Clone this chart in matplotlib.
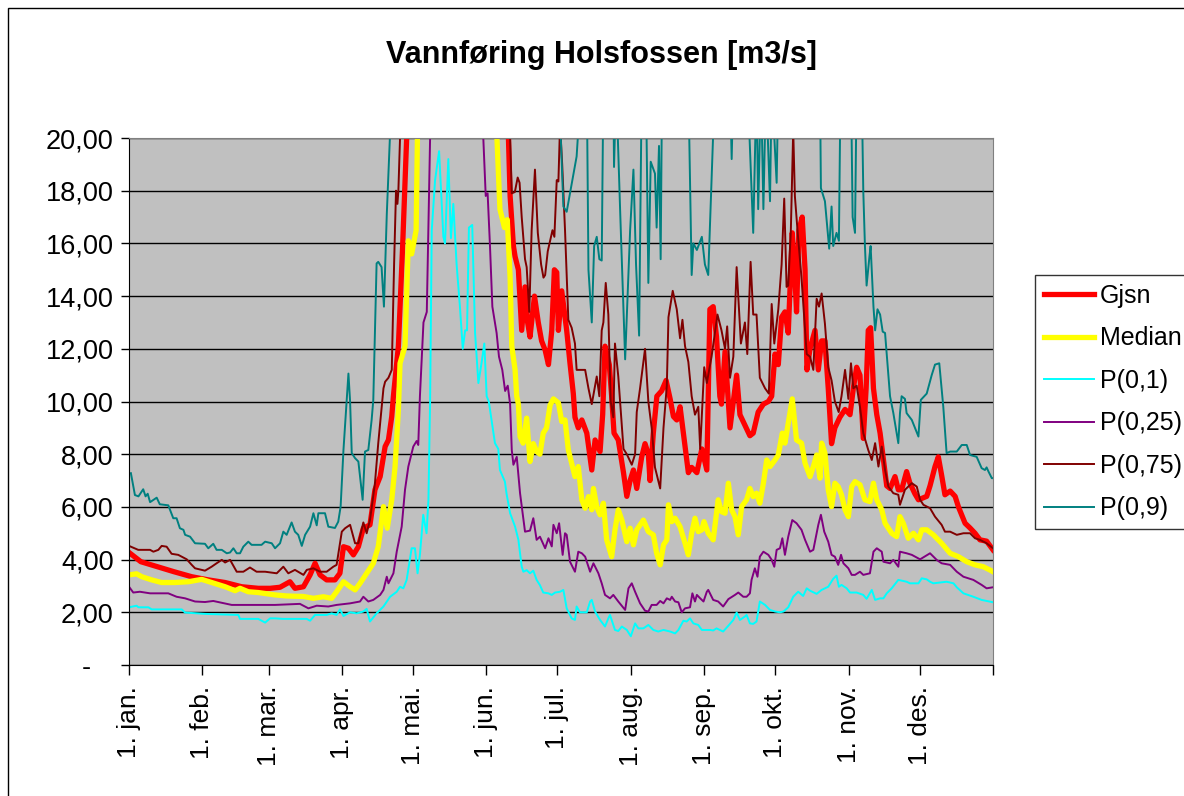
import matplotlib
matplotlib.use("Agg")
import matplotlib.pyplot as plt
from matplotlib.ticker import FuncFormatter
from matplotlib.patches import Rectangle

plt.rcParams['font.family'] = ['Liberation Sans', 'DejaVu Sans']

# (dag i året, m3/s) lest av figuren
gjsn_pts = [(0,4.27),(5,3.92),(12,3.73),(19,3.54),(26.5,3.35),(33.5,3.23),(40.6,3.13),(47.6,2.97),(54.6,2.91),(59.6,2.91),(63.8,2.95),(68,3.16),(70.1,2.91),(73.7,2.97),(76.5,3.42),(78.6,3.86),(80.7,3.42),(83.5,3.23),(87,3.23),(89.1,3.48),(90.6,4.49),(92.7,4.43),(94.8,4.18),(96.9,4.49),(99,5.19),(101.8,5.32),(103.9,6.65),(106.1,7.15),(108.2,8.29),(109.6,8.54),(111,9.43),(111.7,10.2),(113.8,12.1),(115.6,15.9),(117.3,20.0),(125,32),(140,40),(152,32),(160.3,20.0),(161,17.8),(162.4,15.9),(163.1,15.5),(164.5,15.0),(165.9,12.7),(167.3,14.35),(168.4,13.0),(169.4,12.45),(171.3,14.0),(172.9,13.0),(174.3,12.3),(175.8,11.95),(177.2,11.4),(178.6,12.7),(179.7,15.0),(180.7,14.9),(181.4,12.7),(182.8,14.2),(184.9,12.7),(186.3,11.45),(187.7,10.3),(188.4,9.4),(189.8,9.0),(191.3,9.3),(193.4,8.8),(195.5,7.4),(196.9,8.54),(199,8.1),(200.1,9.5),(201.1,12.1),(202.9,11.4),(203.9,10.2),(204.9,8.8),(206.7,8.54),(208.9,7.3),(210.3,6.4),(211.7,7.0),(213.1,7.4),(214.5,6.7),(216.6,7.9),(218,8.4),(219.4,8.0),(220.1,7.0),(221.5,8.8),(223,10.2),(225,10.4),(226.9,10.8),(228.6,10.1),(230,9.43),(231.4,9.3),(232.8,9.8),(234.2,8.8),(236.3,7.3),(237.7,7.5),(239.9,7.3),(242,8.2),(244.1,7.4),(245.4,13.5),(246.8,13.6),(248.2,12.45),(249.6,10.2),(250.3,9.9),(251.8,11.9),(253.9,9.0),(256.7,11.0),(258.1,9.5),(260.2,9.1),(262.3,8.7),(263.7,8.8),(265.8,9.6),(268,9.9),(270.1,10.0),(271.5,10.2),(272.9,11.8),(274.3,11.4),(275.7,13.2),(277.1,13.4),(278.5,12.6),(280.2,16.4),(281.3,14.8),(282,13.4),(283,16.5),(284.4,17.0),(285.6,15.0),(286.4,11.2),(287.7,12.0),(289.8,12.7),(291.2,11.2),(292.6,12.3),(294,12.3),(295.4,10.5),(296.8,8.4),(298.2,9.0),(300.3,9.4),(302.5,9.7),(304.6,9.5),(306,10.5),(307.4,11.3),(308.8,11.0),(310.2,8.6),(311.4,10.5),(312.3,12.7),(313.3,12.8),(314.5,10.5),(315.9,9.5),(317.3,8.8),(318.7,7.8),(320.1,6.8),(321.5,6.7),(323.6,7.15),(325,6.65),(326.4,6.65),(328.5,7.34),(329.9,6.9),(332,6.5),(333.5,6.27),(337,6.4),(338.4,6.8),(340.5,7.53),(341.9,7.9),(343.3,7.2),(344.7,6.46),(346.9,6.6),(349,6.4),(350.4,6.0),(353.2,5.38),(355.3,5.2),(357.4,5.0),(359.5,4.75),(362.3,4.7),(365,4.37)]

median_pts = [(0,3.42),(3.2,3.46),(5.4,3.35),(9.6,3.23),(13.8,3.13),(19.4,3.13),(25.1,3.16),(30.7,3.25),(34.9,3.13),(40.6,2.97),(44.8,2.82),(46.9,2.91),(50.4,2.78),(54.6,2.75),(61.7,2.66),(66.6,2.62),(73.7,2.6),(77.9,2.53),(82.1,2.59),(85.6,2.53),(87.7,2.78),(90.6,3.16),(93.4,2.97),(95.5,2.85),(97.6,3.1),(100.4,3.48),(103.2,3.86),(105.3,4.49),(107.5,6.01),(109.1,5.19),(111,6.27),(112.4,7.53),(113.8,9.68),(114.5,11.45),(116.6,12.1),(118,16.1),(119.4,15.6),(121.3,16.5),(122,21),(135,40),(148,32),(155.3,20.3),(156.7,17.3),(158.6,16.6),(159.8,16.9),(161,14.7),(161.7,12.1),(163.1,11.2),(163.8,10.2),(164.5,9.9),(165.2,8.67),(166.5,8.42),(168,9.37),(169.4,7.72),(170.8,8.4),(172.2,8.1),(173.6,8.0),(175,8.8),(176.4,9.0),(177.9,9.87),(179.3,10.1),(181.4,9.95),(182.8,9.24),(184.2,9.3),(185.6,8.16),(187,7.66),(188.4,7.15),(189.8,7.53),(191.3,6.27),(192.7,5.95),(194.1,6.39),(195.5,5.89),(196.2,6.7),(197.6,6.01),(199,5.7),(200.4,6.14),(201.8,4.75),(203.9,4.11),(205.3,5.13),(206.7,5.89),(208.2,5.5),(210.3,4.68),(211.7,5.19),(213.1,4.56),(214.5,5.13),(217.3,5.5),(219.4,5.06),(221.5,4.94),(222.9,4.24),(224.4,3.8),(225.8,4.56),(227.2,4.75),(227.9,6.08),(229.3,5.44),(230.7,5.57),(232.8,5.25),(234.9,4.62),(236.3,4.18),(237.7,5.0),(239.1,5.57),(240.5,5.06),(242,5.13),(242.9,5.44),(244.7,5.0),(246.8,4.75),(248.9,6.27),(250.3,5.82),(251.8,5.76),(253.2,6.9),(254.6,5.89),(256,5.63),(257.4,4.94),(258.8,6.01),(260.9,6.27),(262.3,6.7),(263.7,6.39),(265.1,6.52),(266.5,6.14),(268,6.9),(269.4,7.78),(270.8,7.53),(272.9,7.78),(274.3,7.97),(276,8.8),(277.1,8.42),(279.2,9.56),(280.2,10.1),(282,8.54),(284.1,8.42),(285.6,7.66),(287.7,7.15),(289.1,7.53),(290.5,7.97),(291.9,7.09),(292.6,8.42),(294,8.04),(295.4,6.65),(296.8,6.01),(298.2,6.9),(299.6,6.77),(301,6.46),(302.5,5.89),(303.9,5.63),(305.3,6.77),(306.7,6.96),(308.8,6.84),(310.9,6.27),(313,6.2),(314.5,6.9),(315.9,6.27),(318,5.89),(319.4,5.38),(322.2,5.0),(324.3,4.87),(325.7,5.63),(327.1,5.38),(329.2,4.81),(331.4,5.0),(333.5,4.75),(334.9,5.13),(337,5.13),(339.8,4.94),(343.3,4.62),(346.9,4.24),(350.4,4.11),(353.9,3.92),(357.4,3.8),(360.9,3.73),(363.8,3.6),(365,3.54)]

p10_pts = [(0,2.19),(3.2,2.25),(4,2.19),(8.2,2.19),(9.6,2.11),(22.3,2.11),(23.7,1.99),(32.1,1.94),(46.2,1.9),(46.9,1.75),(54.6,1.75),(57.5,1.61),(59.6,1.77),(61.7,1.77),(65,1.75),(75.1,1.75),(76.5,1.68),(78.6,1.9),(83.5,1.9),(85.6,1.96),(87.7,1.9),(89.1,2.11),(90.6,1.86),(93.4,2.0),(96.2,1.96),(99,2.03),(100.4,2.13),(101.8,1.65),(104.6,1.96),(107.5,2.22),(110.3,2.59),(113.1,2.78),(114.5,2.97),(115.9,2.91),(117.3,3.23),(119.4,4.43),(120.8,4.43),(121.9,3.48),(122.9,4.18),(124.3,5.7),(125.7,5.0),(126.5,6.27),(127.2,10.0),(127.9,16.5),(129.3,18.4),(131,19.5),(132.8,16.25),(133.5,16.0),(134.9,19.2),(136,16.2),(137,17.5),(138.4,15.2),(139.8,13.6),(141,12.0),(142,12.7),(142.8,12.7),(143.6,16.6),(145,16.7),(146.2,12.6),(147.6,10.7),(149,11.5),(150.1,12.2),(151.1,10.2),(152,10.0),(154.6,8.42),(156,8.2),(156.7,7.4),(158.8,6.96),(159.5,6.5),(161,5.76),(163.1,5.25),(164.5,4.75),(165.9,3.73),(166.6,3.54),(168,3.6),(169.4,3.48),(170.8,3.58),(172.2,3.23),(173.6,3.03),(175,2.75),(177.2,2.72),(178.6,2.66),(180,2.75),(182.1,2.78),(183.5,2.85),(184.9,2.15),(187,1.77),(188.4,1.71),(189.1,2.22),(190.5,2.0),(193.4,2.0),(194.8,2.41),(195.5,2.47),(196.9,2.03),(199,1.71),(201.1,1.46),(202.5,1.77),(203.2,1.9),(205.3,1.33),(206.7,1.29),(208.2,1.46),(210.3,1.33),(212,1.09),(213.8,1.58),(215.2,1.39),(217.3,1.39),(219.4,1.52),(221.5,1.33),(223.6,1.27),(225.8,1.33),(228.6,1.27),(230.7,1.2),(232.1,1.33),(234.2,1.68),(235.6,1.65),(237,1.77),(238.4,1.58),(240.5,1.52),(242,1.33),(245.5,1.33),(246.8,1.31),(248.2,1.39),(251,1.27),(253.2,1.49),(255.3,1.71),(256.7,1.99),(258.1,1.71),(260.2,1.84),(260.9,1.9),(262.3,1.58),(263.7,1.56),(265.1,1.65),(266.5,2.41),(268.7,2.28),(270.8,2.09),(272.9,2.03),(275,2.0),(276.5,2.03),(278.5,2.19),(280.6,2.59),(282.7,2.78),(284.8,2.62),(286.3,2.91),(287.7,2.82),(290.5,2.7),(292.6,2.85),(295.4,2.97),(297.5,3.27),(298.9,3.39),(299.9,2.97),(301,3.04),(303.2,2.91),(304.6,2.75),(307.4,2.75),(310.2,2.66),(311.6,2.51),(313.8,2.85),(315.2,2.47),(317.3,2.53),(318.7,2.53),(320.1,2.72),(322.2,2.91),(325,3.23),(328.5,3.16),(329.9,3.1),(333.5,3.1),(334.9,3.29),(337,3.25),(338.4,3.16),(339.8,3.1),(345.4,3.16),(348.3,3.1),(349.7,2.95),(352.5,2.72),(356.7,2.59),(360.2,2.47),(362.3,2.43),(365,2.38)]

p25_pts = [(0,2.97),(1.8,2.75),(4.6,2.78),(8.9,2.72),(16.6,2.72),(20.1,2.59),(23.7,2.53),(27.9,2.41),(32.1,2.39),(35.6,2.43),(37.7,2.39),(43.4,2.28),(61.7,2.28),(72.2,2.32),(75.8,2.15),(79.3,2.25),(84.2,2.22),(87.7,2.28),(93.4,2.34),(97.6,2.41),(99,2.59),(101.1,2.41),(103.2,2.47),(106.1,2.66),(107.5,2.85),(108.9,3.35),(109.6,3.1),(111.7,3.48),(113.1,4.3),(115.2,5.25),(116.6,6.65),(118,7.53),(120.1,8.29),(121.5,8.5),(122.2,8.35),(122.9,10.2),(124.4,13.0),(125.8,13.4),(127.2,20.0),(135,40),(145,30),(149.7,20.0),(150.7,17.8),(151.5,17.9),(152.5,15.9),(153.5,13.6),(155.3,12.6),(156.3,11.7),(157.7,11.2),(158.9,10.4),(160,10.6),(161,9.9),(161.7,8.16),(162.4,7.6),(163.8,7.9),(165.2,6.52),(167.3,5.06),(169.4,5.1),(170.8,5.57),(172.2,4.75),(173.6,4.87),(175.8,4.43),(177.2,4.81),(178.6,4.5),(179.3,5.32),(180.7,5.0),(181.7,5.38),(183.2,4.18),(184.2,5.0),(184.9,4.94),(186.3,3.92),(188.4,3.54),(189.8,4.3),(191.3,4.24),(192.7,4.11),(194.8,3.54),(196.2,3.86),(198.3,3.48),(199.7,3.1),(201.1,2.66),(203.2,2.53),(204.6,2.66),(206.7,2.41),(209.6,2.09),(211,2.91),(212.4,3.1),(213.8,2.78),(215.9,2.34),(218,2.06),(219.4,2.03),(220.8,2.28),(222.9,2.28),(224.4,2.43),(225.8,2.34),(227.2,2.53),(228.6,2.47),(229.3,2.59),(230.7,2.41),(232.1,2.38),(233.5,2.0),(234.9,2.15),(237,2.19),(238,2.72),(239.1,2.41),(239.9,2.66),(241.3,2.53),(242.7,2.41),(244.1,2.78),(244.7,2.85),(246.8,2.47),(248.9,2.41),(251,2.22),(253.2,2.5),(256,2.66),(257.4,2.75),(259.5,2.59),(260.9,2.59),(262.3,2.72),(263,3.23),(264.4,3.67),(265.5,3.35),(266.5,4.11),(268,4.3),(270.1,4.18),(271.5,3.99),(272.6,3.73),(273.6,4.37),(275,4.43),(276,4.81),(277.1,4.18),(278.5,4.87),(280.2,5.5),(282,5.38),(284.1,5.13),(285.6,4.75),(287.7,4.3),(289.1,4.37),(291.2,5.32),(292.3,5.7),(293.7,5.06),(295.4,4.68),(296.8,4.18),(298.2,4.11),(299.6,3.8),(300.8,4.18),(301.8,3.86),(303.9,3.67),(305.3,3.42),(306.7,3.42),(308.8,3.54),(310.2,3.42),(313,3.48),(314.5,4.3),(315.9,4.43),(318,4.3),(318.7,3.92),(321.5,3.86),(322.9,3.99),(325,3.73),(325.7,4.3),(328.5,4.24),(330.7,4.18),(334.2,4.01),(338.4,4.24),(341.2,3.99),(343.3,3.86),(346.9,3.8),(349.7,3.54),(352.5,3.35),(356.7,3.23),(360.2,3.04),(362.3,2.91),(365,2.95)]

p75_pts = [(0,4.52),(3.9,4.37),(8.9,4.37),(10.3,4.3),(12.4,4.37),(13.8,4.52),(15.9,4.49),(18,4.22),(20.8,4.18),(24.4,4.01),(26.5,3.8),(27.9,3.67),(32.1,3.58),(34.9,3.73),(37,3.86),(39.2,3.99),(40.6,3.89),(42.7,3.99),(45.5,3.54),(48.3,3.54),(51.1,3.7),(53.9,3.54),(57.5,3.54),(62.4,3.48),(65.2,3.73),(67.3,3.48),(70.1,3.61),(73.7,3.42),(75.1,3.61),(77.9,3.67),(80.7,3.54),(83.5,3.54),(86.3,3.73),(87.7,3.8),(89.9,5.06),(91.3,5.19),(93.4,5.32),(95.5,4.62),(96.9,4.62),(99,5.41),(100.4,5.0),(101.8,5.5),(103.9,6.9),(105.3,8.42),(107.5,10.5),(108.2,10.75),(109.6,10.9),(111,11.2),(112,15.24),(112.8,18.0),(113.4,17.5),(113.8,18.0),(114.5,20.0),(125,40),(150,40),(161,20.0),(161.7,17.9),(163,17.95),(164.2,18.5),(165,18.3),(165.9,17.0),(167.3,15.4),(168,15.1),(169.1,13.4),(170.1,16.5),(171.5,18.8),(172.7,16.4),(174.1,15.2),(175.1,14.7),(175.8,14.8),(176.9,15.7),(178.3,16.25),(178.9,16.5),(179.7,16.25),(180.7,18.4),(181.4,18.35),(182.1,20.5),(183,19.0),(184.2,16.5),(185.6,13.1),(187,12.8),(188.4,12.2),(189.1,11.2),(190.5,11.2),(192.7,11.2),(194.1,10.5),(195.5,9.9),(197.6,10.95),(198.7,10.2),(199.7,12.7),(200.4,13.0),(201.4,14.5),(202.5,13.3),(203.5,10.0),(204.6,9.4),(205.3,12.2),(206.7,10.95),(208.9,8.2),(210.3,8.0),(212.4,7.6),(213.8,8.0),(214.5,9.6),(215.9,10.5),(218,12.0),(219.4,10.0),(220.8,9.0),(222.2,7.5),(224.4,6.7),(225.8,9.0),(227.2,10.6),(227.9,13.2),(229.7,14.2),(231.4,13.5),(232.8,12.4),(233.8,13.1),(234.9,12.1),(236.3,11.5),(237.7,10.2),(239.1,9.5),(240.5,9.8),(241.3,8.2),(242.3,10.0),(243,11.3),(244.1,10.7),(246.1,11.7),(248.6,13.3),(250.3,12.7),(251.8,12.0),(252.7,12.85),(253.9,10.9),(255.3,11.7),(256.7,15.1),(258.5,12.2),(260.2,13.0),(261.2,11.8),(262.6,15.3),(263.7,13.3),(265.1,13.3),(266.5,10.9),(268.7,10.5),(270.3,10.3),(271.5,13.7),(272.6,12.2),(274.3,13.5),(275.7,15.2),(276.8,17.7),(277.8,14.35),(278.5,14.4),(279.6,16.5),(280.6,20.3),(281.3,17.8),(282.5,16.4),(284.1,14.7),(286.3,11.8),(287.7,11.7),(289.1,11.2),(290.5,13.9),(291.5,13.6),(292.6,14.1),(294,12.95),(295.4,11.3),(296.8,10.8),(298.2,10.0),(299.8,9.6),(301,10.2),(302.5,11.2),(303.9,10.1),(305,11.45),(306,10.5),(307.4,10.6),(308.8,9.8),(310.2,8.8),(312.3,8.16),(313.8,7.78),(315.2,8.42),(316.6,7.53),(318,8.29),(319.4,7.4),(320.8,6.77),(322.9,6.52),(325,6.46),(325.7,6.08),(327.8,6.65),(330.7,6.9),(332.8,6.77),(334.2,6.27),(335.6,6.08),(338.4,5.95),(340.5,5.63),(343.3,5.32),(344.7,5.06),(346.9,5.06),(349.7,4.94),(352.5,5.0),(355.3,5.0),(357.4,4.81),(359.5,4.75),(362.3,4.62),(365,4.43)]

p90_pts = [(0.8,7.28),(2.5,6.45),(4,6.4),(6,6.67),(7,6.4),(7.9,6.5),(8.9,6.18),(11.7,6.35),(13,6.1),(16.6,6.06),(18.7,5.57),(20.1,5.57),(21.5,5.19),(23,5.13),(23.7,4.94),(25.8,4.87),(27.9,4.62),(32.1,4.6),(33.5,4.43),(35.6,4.6),(37,4.37),(39.2,4.37),(41.3,4.24),(42.7,4.27),(44.1,4.43),(45.5,4.24),(46.9,4.24),(48.3,4.49),(50.4,4.68),(51.8,4.56),(56,4.56),(57.5,4.68),(60.3,4.62),(61.7,4.43),(63.8,4.62),(65.2,5.06),(66.6,4.94),(68.7,5.41),(70.1,5.06),(71.5,4.94),(73,4.52),(74.4,4.94),(76.5,5.25),(77.9,5.76),(79.3,5.3),(80,5.76),(82.8,5.76),(84.2,5.25),(87,5.2),(88.4,5.44),(89.4,6.01),(90.6,8.16),(92.7,11.06),(93.4,10.0),(94.1,8.04),(95.5,7.85),(96.9,7.72),(98.7,6.27),(99.7,8.1),(101.1,8.16),(102.5,9.3),(103.2,10.05),(104.6,15.24),(105.3,15.3),(106.7,15.1),(107.7,13.6),(108.9,17.1),(110.3,20.2),(130,45),(160,45),(182.3,20.3),(183.5,17.4),(184.9,17.2),(186.3,17.9),(189.1,19.3),(191,22),(193.4,22),(194.1,15.0),(195.5,13.0),(196.5,15.9),(197.6,16.25),(198.7,15.4),(199.7,15.35),(200.4,22),(204.6,22),(204.9,18.9),(205.8,22),(207.5,17.2),(209.6,11.6),(211.7,16.5),(213.1,18.8),(214.2,15.2),(215.5,12.5),(216.6,22),(218.4,22),(219.4,14.5),(220.4,19.1),(222.2,18.65),(222.9,16.6),(223.9,19.7),(224.6,15.4),(225.2,22),(236.3,22),(237.7,14.8),(238.4,16.0),(239.9,15.75),(242,16.25),(243.3,15.2),(244.7,14.8),(246.1,18.4),(247.5,22),(253.9,22),(254.6,19.2),(255.3,22),(261.3,22),(263.7,16.4),(265.1,22),(265.8,17.3),(267,22),(268,17.3),(269.1,22),(270.8,17.6),(271.5,22),(273.6,18.3),(274.3,22),(291.9,22),(292.3,18.1),(294,17.6),(295.1,16.5),(295.8,15.8),(296.8,17.4),(297.5,15.9),(298.9,16.4),(299.9,16.1),(300.6,22),(305,22),(305.7,17.0),(306.7,16.4),(307.4,22),(309.5,22),(310.2,18.0),(310.9,15.9),(311.6,14.4),(312.8,15.5),(313.3,15.9),(314.5,13.6),(315.2,12.7),(316.2,13.5),(317.3,13.3),(318.4,12.65),(319.4,12.6),(320.4,11.45),(321.5,10.2),(322.9,9.56),(325,8.42),(325.7,9.56),(326.4,10.2),(327.8,10.1),(328.5,9.56),(330.7,9.3),(333.5,8.67),(334.5,10.06),(337,10.3),(339.1,11.0),(340.5,11.4),(342.3,11.45),(343.3,10.5),(344,9.8),(345.4,8.04),(346.9,8.1),(349.7,8.1),(351.8,8.35),(353.9,8.35),(355.3,7.97),(358.1,7.9),(360.2,7.47),(361.6,7.4),(362.3,7.5),(363.1,7.34),(364.5,7.09),(365,7.09)]

month_days = [0, 31, 59, 90, 120, 151, 181, 212, 243, 273, 304, 334, 365]
month_labels = ['1. jan.', '1. feb.', '1. mar.', '1. apr.', '1. mai.', '1. jun.',
                '1. jul.', '1. aug.', '1. sep.', '1. okt.', '1. nov.', '1. des.', '']

series = [
    ('Gjsn', gjsn_pts, '#FF0000', 3.8),
    ('Median', median_pts, '#FFFF00', 3.8),
    ('P(0,1)', p10_pts, '#00FFFF', 1.4),
    ('P(0,25)', p25_pts, '#800080', 1.4),
    ('P(0,75)', p75_pts, '#800000', 1.4),
    ('P(0,9)', p90_pts, '#008080', 1.4),
]

fig = plt.figure(figsize=(11.84, 7.96), dpi=100)
ax = fig.add_axes([129/1184, 1 - 665/796, 864/1184, 527/796])
ax.set_facecolor('#C0C0C0')

for name, pts, col, lw in series:
    xs = [p[0] for p in pts]
    ys = [p[1] for p in pts]
    ax.plot(xs, ys, color=col, lw=lw, label=name)

ax.set_xlim(0, 365)
ax.set_ylim(0, 20)
ax.set_yticks(range(0, 21, 2))
ax.yaxis.set_major_formatter(FuncFormatter(
    lambda v, p: '-   ' if v == 0 else f'{v:.2f}'.replace('.', ',')))
ax.set_xticks(month_days)
ax.set_xticklabels(month_labels, rotation=90, va='top', ha='center')
ax.tick_params(axis='x', direction='out', length=7, width=1, labelsize=19, pad=8)
ax.tick_params(axis='y', direction='out', length=6, width=1, labelsize=19.5, pad=5)
ax.yaxis.grid(True, color='black', lw=1)
ax.set_axisbelow(True)
for s in ['top', 'right']:
    ax.spines[s].set_color('#808080')
for s in ['left', 'bottom']:
    ax.spines[s].set_color('black')

fig.text(602/1184, 1 - 55/796, 'Vannføring Holsfossen [m3/s]', ha='center', va='center',
         fontsize=22, fontweight='bold')

leg = fig.legend(loc='upper left', bbox_to_anchor=(1035/1184, 1 - 275/796),
                 fontsize=18, frameon=True, fancybox=False, edgecolor='black',
                 handlelength=2.0, handletextpad=0.25, labelspacing=0.74,
                 borderpad=0.35, borderaxespad=0)
leg.get_frame().set_linewidth(1)

fig.patches.append(Rectangle((8/1184, -0.1), 1.2, 1 - 8/796 + 0.1,
                             transform=fig.transFigure, fill=False,
                             edgecolor='black', lw=1))

fig.savefig('out.png', dpi=100)
